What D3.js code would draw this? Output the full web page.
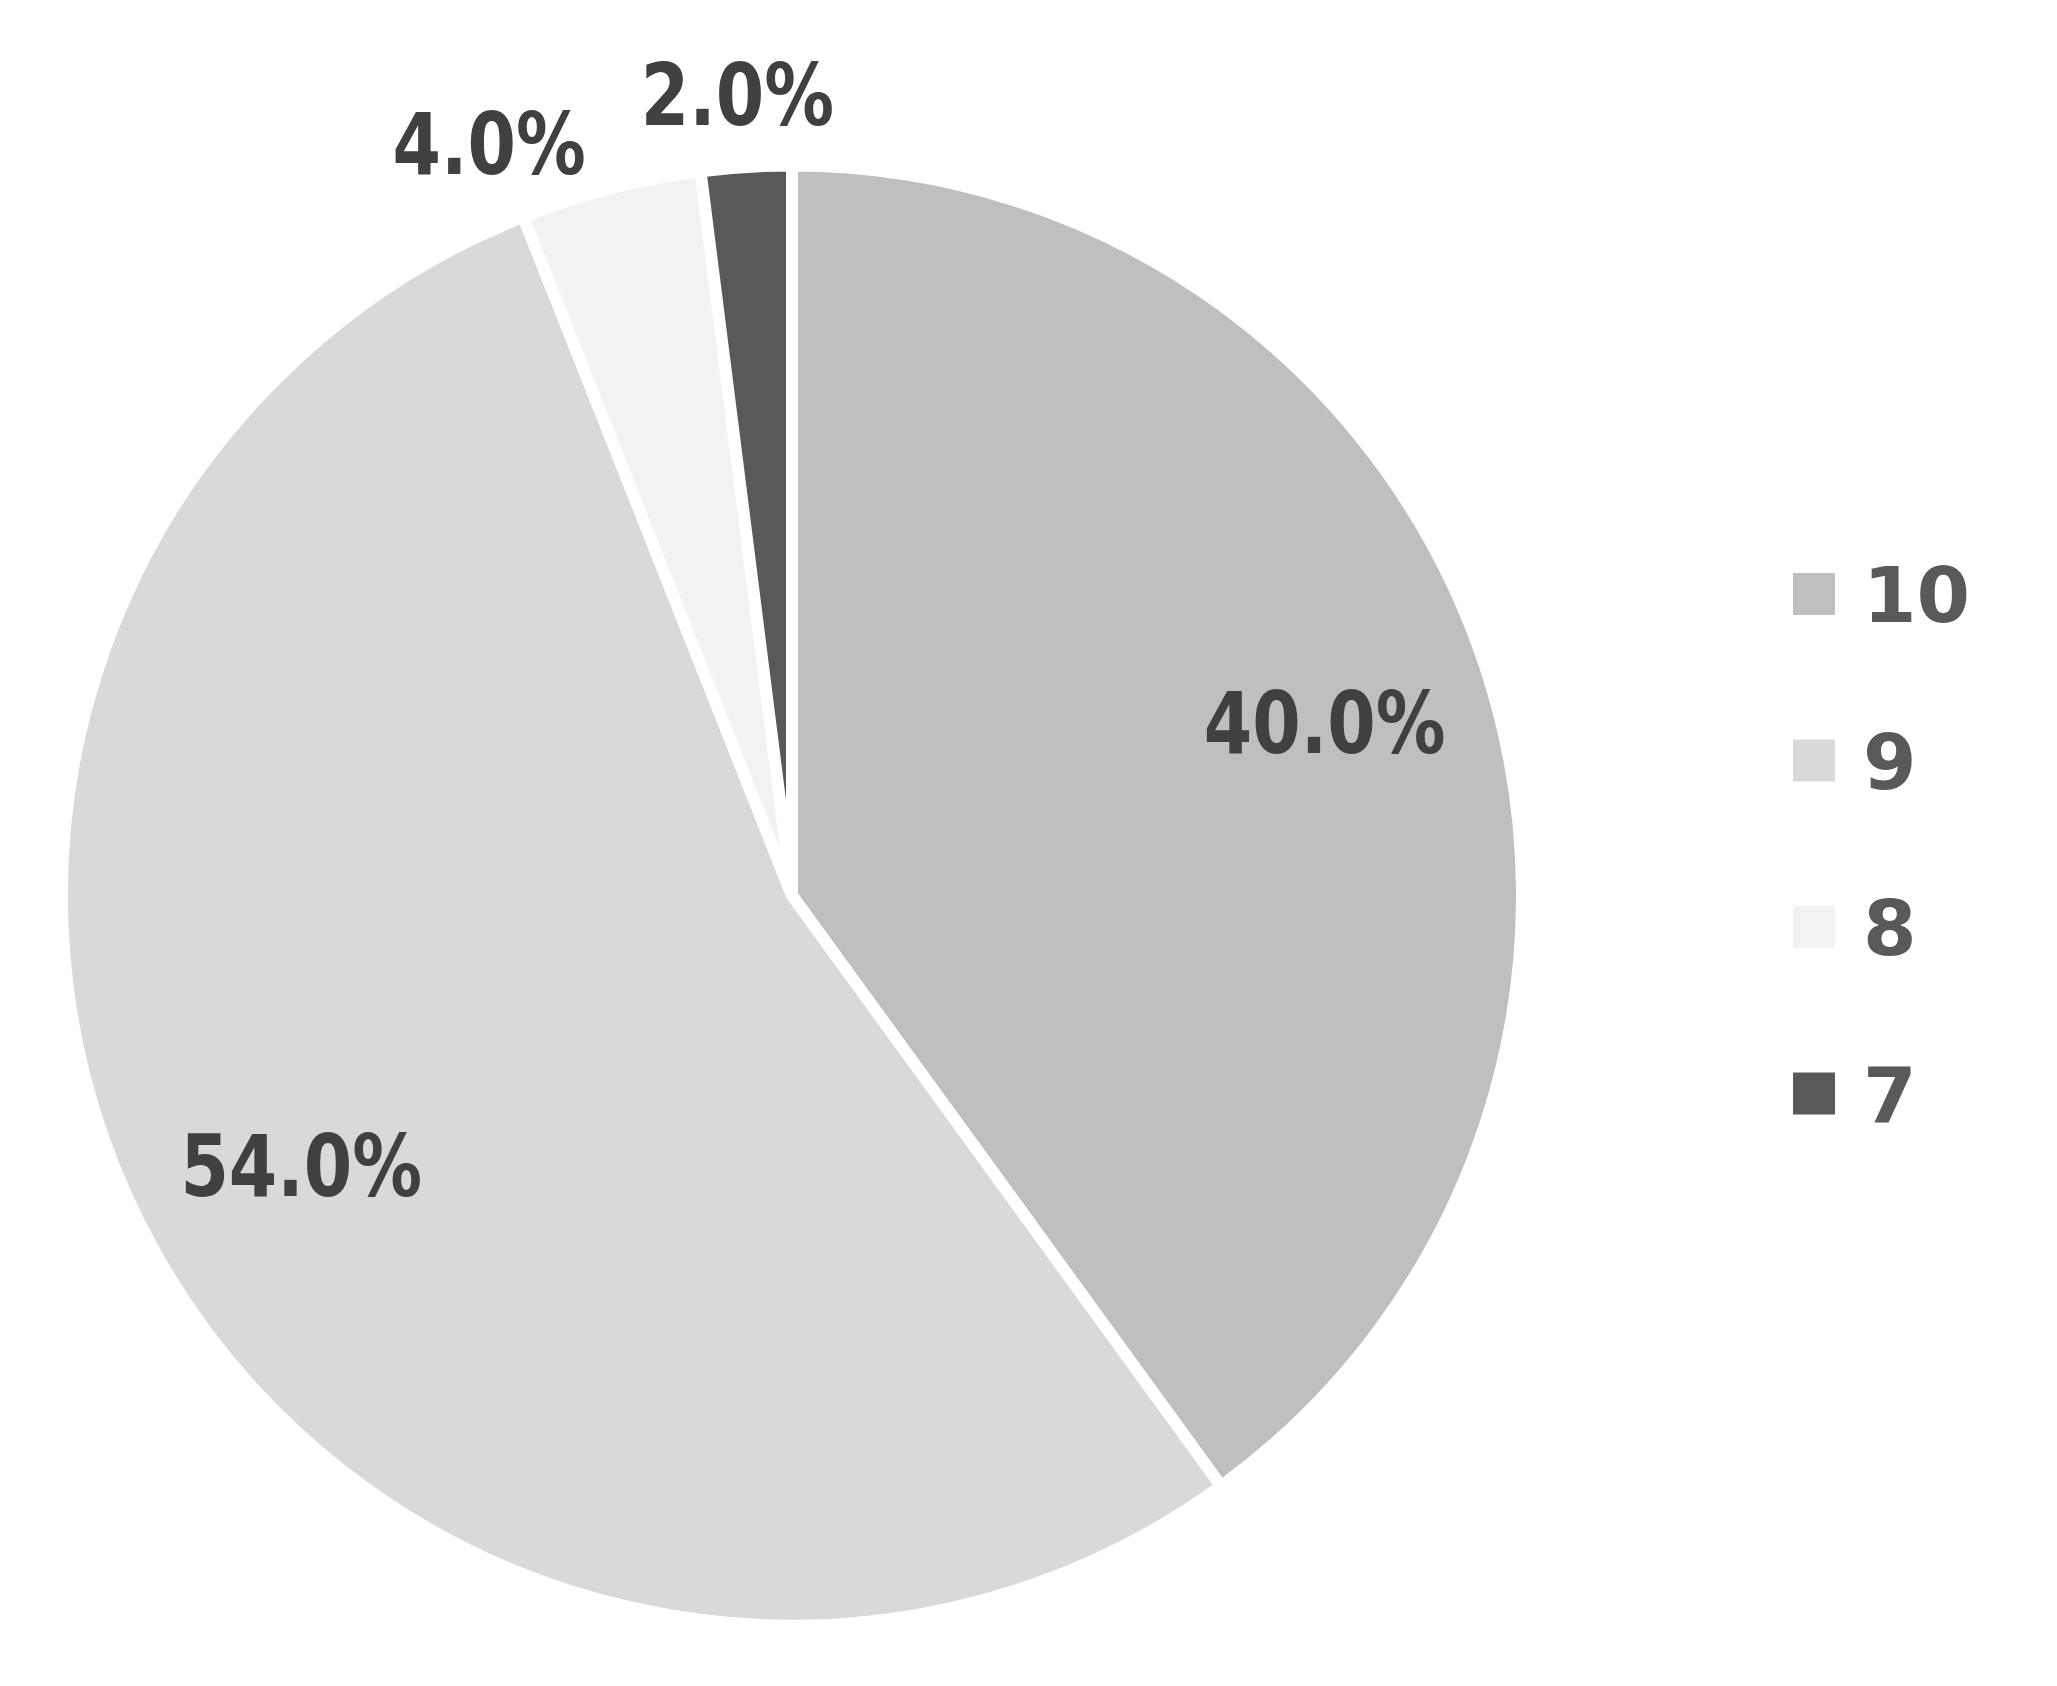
<!DOCTYPE html>
<html>
<head>
<meta charset="utf-8">
<script src="https://cdnjs.cloudflare.com/ajax/libs/d3/7.8.5/d3.min.js"></script>
<style>
  body { margin: 0; background: #fff; }
  text { font-family: "DejaVu Sans", Verdana, sans-serif; font-weight: bold; }
</style>
</head>
<body>
<svg id="pie" width="2057" height="1686"></svg>
<script>
// data
var categories = ["10", "9", "8", "7"];
var percents = [40.0, 54.0, 4.0, 2.0];
var colors = ["#bfbfbf", "#d9d9d9", "#f2f2f2", "#595959"];

var svg = d3.select("#pie"),
  width = +svg.attr("width"),
  height = +svg.attr("height");

svg.append("rect").attr("width", width).attr("height", height).attr("fill", "#fff");

var cx = 792, cy = 895.5, radius = 730;
var insideR = 560, outsideR = 772;
var labelSize = 85, legendSize = 77;
var squeeze = 0.82; // labels are narrower than DejaVu
var digitH = 0.729;

var color = d3.scaleOrdinal().domain(categories).range(colors);

var pie = d3.pie().sort(null).value(function(d) { return d.value; });
var data = categories.map(function(c, i) { return {key: c, value: percents[i]}; });
var arcs = pie(data);

var arc = d3.arc().innerRadius(0).outerRadius(radius);
var inArc = d3.arc().innerRadius(insideR).outerRadius(insideR);

var g = svg.append("g").attr("transform", "translate(" + cx + "," + cy + ")");

g.selectAll("path")
  .data(arcs)
  .enter().append("path")
    .attr("d", arc)
    .attr("fill", function(d) { return color(d.data.key); })
    .attr("stroke", "#fff")
    .attr("stroke-width", 12)
    .attr("stroke-linejoin", "miter");

// labels
var fmt = d3.format(".1f");
var lblG = g.selectAll("g.lbl")
  .data(arcs)
  .enter().append("g")
    .attr("class", "lbl");
lblG.append("text")
  .attr("fill", "#404040")
  .attr("transform", "scale(" + squeeze + ",1)")
  .style("font-size", labelSize + "px")
  .text(function(d) { return fmt(d.data.value) + "%"; });

var h = digitH * labelSize;
var placed = [];
var pad = 52;

// inside labels on the bisector
lblG.filter(function(d) { return d.data.value >= 10; })
  .attr("transform", function(d) {
    var c = inArc.centroid(d);
    return "translate(" + c[0] + "," + (c[1] + h / 2) + ")";
  })
  .select("text").attr("text-anchor", "middle");

// small slices go outside, pushed apart if they collide
var outside = lblG.filter(function(d) { return d.data.value < 10; }).nodes();
outside.sort(function(a, b) { return d3.select(b).datum().startAngle - d3.select(a).datum().startAngle; });
outside.forEach(function(node) {
  var d = d3.select(node).datum();
  var w = d3.select(node).select("text").node().getComputedTextLength() * squeeze;
  var a = (d.startAngle + d.endAngle) / 2;
  var box;
  for (var k = 0; k < 200; k++) {
    var s = Math.sin(a), c = Math.cos(a);
    var px = outsideR * s, py = -outsideR * c;
    box = {x0: px - w * (1 - s) / 2, y0: py - h * (1 + c) / 2};
    box.x1 = box.x0 + w; box.y1 = box.y0 + h;
    var hit = placed.some(function(p) {
      return box.x0 < p.x1 + pad && box.x1 + pad > p.x0 && box.y0 < p.y1 + pad && box.y1 + pad > p.y0;
    });
    if (!hit) break;
    a -= Math.PI / 360;
  }
  placed.push(box);
  d3.select(node).attr("transform", "translate(" + box.x0 + "," + box.y1 + ")");
});

// legend
var legend = svg.append("g").attr("transform", "translate(1793,594)");
var rows = legend.selectAll("g")
  .data(categories)
  .enter().append("g")
    .attr("transform", function(d, i) { return "translate(0," + (i * 166.5) + ")"; });

rows.append("rect")
  .attr("x", 0).attr("y", -21)
  .attr("width", 42).attr("height", 42)
  .attr("fill", function(d) { return color(d); });

rows.append("text")
  .attr("x", 70)
  .attr("y", digitH * legendSize / 2)
  .attr("fill", "#595959")
  .style("font-size", legendSize + "px")
  .text(function(d) { return d; });
</script>
</body>
</html>
